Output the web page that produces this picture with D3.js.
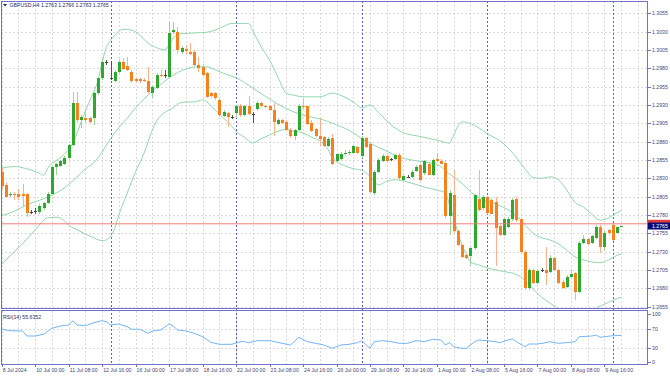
<!DOCTYPE html>
<html>
<head>
<meta charset="utf-8">
<script src="https://cdn.jsdelivr.net/npm/d3@7/dist/d3.min.js"></script>
<style>
  body { margin: 0; background: #fff; }
  svg { display: block; font-family: "Liberation Sans", Arial, sans-serif; }
</style>
</head>
<body>
<svg id="chart" width="670" height="376"></svg>
<script>
// GBPUSD H4, 8 Jul 16:00 .. 12 Aug 08:00 (bar index 0..148)
const openP = [1.2839,1.2821,1.2807,1.2809,1.2809,1.2808,1.2808,1.2784,1.2786,1.2784,
  1.2789,1.2796,1.2809,1.2845,1.2847,1.2850,1.2857,1.2875,1.2932,1.2910,
  1.2912,1.2912,1.2912,1.2946,1.2966,1.2988,1.2967,1.2963,1.2975,1.2989,
  1.2983,1.2975,1.2965,1.2965,1.2964,1.2963,1.2946,1.2953,1.2971,1.2971,
  1.2968,1.3029,1.3030,1.3002,1.3006,1.3002,1.3002,1.2984,1.2982,1.2973,
  1.2946,1.2946,1.2937,1.2915,1.2919,1.2913,1.2919,1.2929,1.2916,1.2929,
  1.2918,1.2924,1.2932,1.2929,1.2928,1.2923,1.2904,1.2909,1.2907,1.2896,
  1.2888,1.2896,1.2928,1.2928,1.2906,1.2897,1.2888,1.2886,1.2874,1.2885,
  1.2853,1.2856,1.2864,1.2864,1.2865,1.2872,1.2860,1.2885,1.2877,1.2810,
  1.2838,1.2854,1.2860,1.2856,1.2856,1.2862,1.2828,1.2832,1.2832,1.2840,
  1.2848,1.2837,1.2850,1.2835,1.2856,1.2854,1.2851,1.2778,1.2807,1.2758,
  1.2739,1.2726,1.2724,1.2735,1.2802,1.2789,1.2804,1.2800,1.2798,1.2765,
  1.2753,1.2764,1.2774,1.2802,1.2774,1.2730,1.2680,1.2705,1.2688,1.2705,
  1.2705,1.2703,1.2721,1.2705,1.2689,1.2682,1.2696,1.2701,1.2675,1.2742,
  1.2747,1.2742,1.2748,1.2764,1.2737,1.2759,1.2766,1.2756,1.2763];
const highP = [1.2844,1.2825,1.2811,1.2811,1.2816,1.2822,1.2810,1.2787,1.2789,1.2795,
  1.2798,1.2811,1.2847,1.2851,1.2855,1.2860,1.2877,1.2948,1.2948,1.2916,
  1.2924,1.2914,1.2948,1.2968,1.2994,1.2991,1.2990,1.2978,1.2991,1.2994,
  1.2995,1.2977,1.2967,1.2967,1.2966,1.2982,1.2957,1.2973,1.2978,1.2978,
  1.3043,1.3043,1.3036,1.3010,1.3012,1.3014,1.3005,1.2995,1.2986,1.2975,
  1.2948,1.2948,1.2939,1.2923,1.2921,1.2916,1.2930,1.2931,1.2930,1.2942,
  1.2920,1.2935,1.2934,1.2930,1.2930,1.2932,1.2912,1.2911,1.2909,1.2898,
  1.2897,1.2931,1.2938,1.2929,1.2909,1.2899,1.2912,1.2888,1.2886,1.2890,
  1.2864,1.2866,1.2869,1.2869,1.2875,1.2874,1.2888,1.2886,1.2878,1.2841,
  1.2858,1.2863,1.2862,1.2858,1.2863,1.2865,1.2834,1.2834,1.2841,1.2848,
  1.2850,1.2855,1.2851,1.2858,1.2864,1.2856,1.2855,1.2814,1.2841,1.2759,
  1.2741,1.2727,1.2736,1.2808,1.2841,1.2807,1.2806,1.2803,1.2805,1.2766,
  1.2776,1.2777,1.2803,1.2804,1.2775,1.2732,1.2708,1.2706,1.2706,1.2708,
  1.2737,1.2725,1.2723,1.2706,1.2691,1.2698,1.2705,1.2702,1.2744,1.2753,
  1.2749,1.2753,1.2767,1.2766,1.2758,1.2761,1.2769,1.2764,1.2766];
const lowP = [1.2816,1.2804,1.2805,1.2800,1.2800,1.2792,1.2777,1.2781,1.2782,1.2782,
  1.2787,1.2795,1.2807,1.2834,1.2845,1.2848,1.2855,1.2874,1.2907,1.2898,
  1.2907,1.2905,1.2903,1.2944,1.2964,1.2984,1.2964,1.2961,1.2973,1.2977,
  1.2976,1.2960,1.2960,1.2960,1.2961,1.2946,1.2940,1.2951,1.2968,1.2967,
  1.2966,1.3026,1.3000,1.3000,1.2999,1.2998,1.2983,1.2975,1.2969,1.2939,
  1.2940,1.2936,1.2914,1.2913,1.2900,1.2911,1.2912,1.2913,1.2915,1.2916,
  1.2905,1.2922,1.2927,1.2926,1.2922,1.2887,1.2903,1.2904,1.2894,1.2885,
  1.2882,1.2895,1.2924,1.2903,1.2893,1.2886,1.2874,1.2873,1.2872,1.2848,
  1.2851,1.2855,1.2862,1.2862,1.2864,1.2863,1.2857,1.2871,1.2810,1.2807,
  1.2837,1.2852,1.2851,1.2854,1.2855,1.2828,1.2826,1.2830,1.2830,1.2839,
  1.2827,1.2835,1.2834,1.2833,1.2852,1.2849,1.2776,1.2753,1.2755,1.2738,
  1.2721,1.2720,1.2711,1.2732,1.2786,1.2787,1.2781,1.2781,1.2710,1.2751,
  1.2751,1.2762,1.2772,1.2770,1.2728,1.2678,1.2678,1.2686,1.2686,1.2702,
  1.2685,1.2701,1.2704,1.2686,1.2679,1.2680,1.2695,1.2664,1.2674,1.2741,
  1.2739,1.2740,1.2747,1.2728,1.2731,1.2753,1.2744,1.2755,1.2763];
const closeP = [1.2819,1.2805,1.2809,1.2807,1.2805,1.2806,1.2783,1.2784,1.2786,1.2792,
  1.2796,1.2809,1.2846,1.2849,1.2853,1.2858,1.2875,1.2932,1.2910,1.2914,
  1.2909,1.2907,1.2946,1.2966,1.2989,1.2988,1.2967,1.2975,1.2989,1.2979,
  1.2978,1.2962,1.2963,1.2962,1.2963,1.2948,1.2955,1.2971,1.2969,1.2971,
  1.3028,1.3032,1.3005,1.3008,1.3004,1.2999,1.2984,1.2980,1.2971,1.2941,
  1.2942,1.2939,1.2916,1.2921,1.2914,1.2913,1.2928,1.2916,1.2928,1.2918,
  1.2918,1.2932,1.2928,1.2927,1.2923,1.2907,1.2910,1.2906,1.2896,1.2888,
  1.2896,1.2928,1.2927,1.2904,1.2895,1.2888,1.2884,1.2874,1.2884,1.2850,
  1.2863,1.2863,1.2865,1.2866,1.2874,1.2865,1.2885,1.2872,1.2812,1.2838,
  1.2855,1.2860,1.2854,1.2856,1.2862,1.2830,1.2833,1.2832,1.2839,1.2846,
  1.2828,1.2853,1.2835,1.2855,1.2853,1.2850,1.2778,1.2810,1.2758,1.2739,
  1.2723,1.2722,1.2735,1.2807,1.2787,1.2805,1.2783,1.2782,1.2762,1.2753,
  1.2774,1.2775,1.2801,1.2773,1.2730,1.2680,1.2705,1.2688,1.2704,1.2705,
  1.2701,1.2722,1.2705,1.2687,1.2680,1.2696,1.2700,1.2675,1.2742,1.2747,
  1.2740,1.2751,1.2764,1.2737,1.2756,1.2755,1.2746,1.2763,1.2765];

const upIdx = [0,3,6,9,10,11,13,15,17,19,21,22,23,24,25,26,27,29,31,33,35,37,39,40,41,43,46,49,51,53,55,58,59,60,62,64,66,68,70,72,76,79,81,84,86,88,90,93,96,100,104,107,108,109,110,113,116,120,123,125,127,129,131,133,135,137,139,141,143,145,147,148];
const upVal = [1.2844,1.2846,1.2843,1.2837,1.2834,1.2844,1.2854,1.2863,1.2878,1.2907,1.2935,1.2948,1.2963,1.2988,1.3008,1.3018,1.3025,1.3033,1.3032,1.3025,1.3014,1.3008,1.3005,1.3012,1.3021,1.3027,1.3028,1.3029,1.3032,1.3037,1.3041,1.3041,1.3041,1.3031,1.3009,1.2991,1.2968,1.2946,1.2943,1.2941,1.2941,1.2946,1.2943,1.2934,1.2926,1.2930,1.2920,1.2903,1.2892,1.2887,1.2882,1.2878,1.2889,1.2901,1.2907,1.2902,1.2891,1.2877,1.2858,1.2843,1.2831,1.2830,1.2832,1.2828,1.2814,1.2797,1.2791,1.2781,1.2773,1.2776,1.2783,1.2786];
const midIdx = [0,3,6,9,12,15,18,20,22,24,26,28,30,32,34,36,38,40,42,44,47,49,51,53,56,60,64,68,72,76,80,84,86,88,90,92,95,100,104,107,110,113,116,120,123,125,127,129,131,133,135,137,139,141,143,145,147,148];
const midVal = [1.2779,1.2785,1.2794,1.2800,1.2807,1.2817,1.2832,1.2843,1.2851,1.2866,1.2884,1.2899,1.2912,1.2926,1.2938,1.2949,1.2958,1.2967,1.2974,1.2979,1.2982,1.2982,1.2978,1.2973,1.2967,1.2953,1.2938,1.2925,1.2916,1.2911,1.2903,1.2892,1.2884,1.2878,1.2872,1.2867,1.2859,1.2853,1.2849,1.2836,1.2823,1.2807,1.2799,1.2790,1.2779,1.2767,1.2755,1.2749,1.2746,1.2741,1.2732,1.2723,1.2719,1.2716,1.2715,1.2719,1.2725,1.2727];
const loIdx = [0,3,6,8,11,13,15,16,18,20,22,24,25,26,27,28,30,32,34,36,37,39,41,42,44,46,48,50,51,53,55,56,58,60,62,64,66,68,70,72,74,76,78,79,82,85,86,88,90,92,94,97,101,104,106,107,108,109,110,111,112,114,116,120,123,124,126,129,131,133,135,137,139,141,143,145,147,148];
const loVal = [1.2713,1.2730,1.2747,1.2760,1.2776,1.2777,1.2772,1.2766,1.2760,1.2754,1.2749,1.2745,1.2746,1.2751,1.2762,1.2780,1.2810,1.2839,1.2864,1.2896,1.2908,1.2920,1.2926,1.2931,1.2934,1.2934,1.2937,1.2929,1.2923,1.2912,1.2901,1.2894,1.2886,1.2878,1.2884,1.2889,1.2894,1.2897,1.2894,1.2892,1.2886,1.2881,1.2869,1.2858,1.2847,1.2842,1.2841,1.2833,1.2821,1.2826,1.2828,1.2825,1.2818,1.2814,1.2810,1.2794,1.2776,1.2756,1.2739,1.2727,1.2716,1.2712,1.2708,1.2703,1.2699,1.2696,1.2685,1.2668,1.2660,1.2653,1.2651,1.2649,1.2648,1.2651,1.2656,1.2661,1.2666,1.2668];

// RSI(14)
const rsiIdx = [0,2,5,6,8,10,12,14,16,17,18,20,22,24,25,26,28,30,31,33,35,36,38,40,41,42,44,46,48,50,52,55,57,58,59,61,64,67,69,71,73,75,77,79,81,83,85,86,88,89,91,93,95,97,99,101,103,105,106,107,108,110,111,113,114,116,118,119,121,122,123,125,126,128,130,131,133,135,137,138,141,142,143,144,146,148];
const rsiVal = [68.6,65.6,65,54.5,54.5,58.1,70.6,75.5,77.6,86.6,77.6,76.1,82.4,86.6,84.5,77.6,79.7,74,68.6,68.6,60.2,65,67.1,79.7,75.5,67.1,65,60.2,53,41.3,37.1,37.1,42.6,42.6,40.5,44.7,44.7,39.2,35.6,51.8,42.6,39.2,35.6,28.7,35.6,37.1,40.5,44.7,28.7,42.6,44.7,42.6,39.2,39.2,44.7,42.6,47.6,46.1,35.6,40.5,32.1,28.7,28.7,42.6,46.1,44.7,42.6,40.5,46.1,48.2,42.6,32.1,37.7,37.7,40.5,42.6,39.2,40.5,42.6,53,54.5,56.6,51.8,53,55.1,55.6];

// axes
const priceTicks = [1.3055,1.3030,1.3005,1.2980,1.2955,1.2930,1.2905,1.2880,1.2855,1.2830,1.2805,1.2780,1.2755,1.2730,1.2705,1.2680,1.2655];
const rsiTicks = [100,70,30,0];
const rsiLevels = [70,30];
const dateIdx = [0,8,16,24,32,40,48,56,64,72,80,88,96,104,112,120,128,136,144];
const dateLabels = ["8 Jul 2024","10 Jul 00:00","11 Jul 08:00","12 Jul 16:00","16 Jul 00:00","17 Jul 08:00","18 Jul 16:00","22 Jul 00:00","23 Jul 08:00","24 Jul 16:00","26 Jul 00:00","29 Jul 08:00","30 Jul 16:00","1 Aug 00:00","2 Aug 08:00","5 Aug 16:00","7 Aug 00:00","8 Aug 08:00","9 Aug 16:00"];
const weekIdx = [26,56,86,116,146];
const askPrice = 1.2768;
const bidPrice = 1.2765;
const title = "GBPUSD,H4 1.2763 1.2766 1.2763 1.2765";
const rsiTitle = "RSI(14) 55.6352";

const frame = "#7272cc", gridC = "#dadada", textC = "#45457a";
const upC = "#2fa82f", downC = "#f7811f", upWick = "#9ad59a", downWick = "#fbb08e";
const bandC = "#92d6ad", rsiC = "#73b5f7";

const svg = d3.select("#chart");
const L = 1, R = 648, mainTop = 1, mainBot = 307.5, rsiTop = 311, rsiBot = 364;

const x = d3.scaleLinear().domain([0, 148]).range([1.7, 621.1]);
const y = d3.scaleLinear().domain([1.2780, 1.3055]).range([215, 13.15]);
const yr = d3.scaleLinear().domain([0, 100]).range([362, 314.3]);

const defs = svg.append("defs");
defs.append("clipPath").attr("id", "clipMain")
  .append("rect").attr("x", L).attr("y", mainTop).attr("width", R - L).attr("height", mainBot - mainTop);
defs.append("clipPath").attr("id", "clipRsi")
  .append("rect").attr("x", L).attr("y", rsiTop).attr("width", R - L).attr("height", rsiBot - rsiTop);

// grid
const grid = svg.append("g").attr("shape-rendering", "crispEdges")
  .attr("stroke", gridC).attr("stroke-dasharray", "2,2");
grid.selectAll(".hg").data(priceTicks).enter().append("line")
  .attr("x1", L).attr("x2", R)
  .attr("y1", d => Math.round(y(d)) + 0.5).attr("y2", d => Math.round(y(d)) + 0.5);
grid.selectAll(".rl").data(rsiLevels).enter().append("line")
  .attr("x1", L).attr("x2", R)
  .attr("y1", d => Math.round(yr(d)) + 0.5).attr("y2", d => Math.round(yr(d)) + 0.5);
const vTicks = d3.range(0, 153, 4);
grid.selectAll(".vg").data(vTicks).enter().append("line")
  .attr("x1", d => Math.round(x(d)) + 0.5).attr("x2", d => Math.round(x(d)) + 0.5)
  .attr("y1", mainTop).attr("y2", mainBot);
grid.selectAll(".vr").data(vTicks).enter().append("line")
  .attr("x1", d => Math.round(x(d)) + 0.5).attr("x2", d => Math.round(x(d)) + 0.5)
  .attr("y1", rsiTop).attr("y2", rsiBot);

// weekly separators
svg.append("g").attr("stroke", "#5d5dc8").attr("stroke-dasharray", "2,2").attr("shape-rendering", "crispEdges")
  .selectAll("line").data(weekIdx).enter().append("line")
  .attr("x1", d => Math.round(x(d)) + 0.5).attr("x2", d => Math.round(x(d)) + 0.5)
  .attr("y1", mainTop).attr("y2", rsiBot);

// bollinger bands
const main = svg.append("g").attr("clip-path", "url(#clipMain)");
const bandLine = d3.line().x(d => x(d[0])).y(d => y(d[1])).curve(d3.curveMonotoneX);
[[upIdx, upVal], [midIdx, midVal], [loIdx, loVal]].forEach(([ix, vals]) => {
  main.append("path")
    .datum(ix.map((d, i) => [d, vals[i]]))
    .attr("d", bandLine)
    .attr("fill", "none").attr("stroke", bandC).attr("stroke-width", 1);
});

// candles
const bars = d3.range(openP.length).map(i => ({ i, o: openP[i], h: highP[i], l: lowP[i], c: closeP[i] }));
const cg = main.append("g").attr("shape-rendering", "crispEdges");
const candle = cg.selectAll("g").data(bars).enter().append("g");
candle.append("line")
  .attr("x1", d => Math.round(x(d.i)) + 0.5).attr("x2", d => Math.round(x(d.i)) + 0.5)
  .attr("y1", d => y(d.h)).attr("y2", d => y(d.l))
  .attr("stroke", d => d.c > d.o ? upWick : d.c < d.o ? downWick : "#555");
candle.append("rect")
  .attr("x", d => Math.round(x(d.i)) - 1)
  .attr("width", 3)
  .attr("y", d => Math.min(y(d.o), y(d.c)))
  .attr("height", d => Math.max(1, Math.abs(y(d.o) - y(d.c))))
  .attr("fill", d => d.c > d.o ? upC : d.c < d.o ? downC : "#444");

// ask line
svg.append("line").attr("x1", L).attr("x2", R)
  .attr("y1", y(askPrice)).attr("y2", y(askPrice))
  .attr("stroke", "#ef7b7b").attr("stroke-width", 1);

// rsi
svg.append("path")
  .datum(rsiIdx.map((d, i) => [d, rsiVal[i]]))
  .attr("clip-path", "url(#clipRsi)")
  .attr("d", d3.line().x(d => x(d[0])).y(d => yr(d[1])))
  .attr("fill", "none").attr("stroke", rsiC).attr("stroke-width", 1);

// frames
const fr = svg.append("g").attr("stroke", frame).attr("fill", "none").attr("shape-rendering", "crispEdges");
fr.append("rect").attr("x", L + 0.5).attr("y", mainTop + 0.5).attr("width", R - L - 1).attr("height", mainBot - mainTop);
fr.append("rect").attr("x", L + 0.5).attr("y", rsiTop - 0.5).attr("width", R - L - 1).attr("height", rsiBot - rsiTop + 0.5);

// price axis
const pAxis = svg.append("g").attr("font-size", 5.2).attr("fill", textC);
pAxis.selectAll("line").data(priceTicks).enter().append("line")
  .attr("x1", R).attr("x2", R + 3)
  .attr("y1", d => Math.round(y(d)) + 0.5).attr("y2", d => Math.round(y(d)) + 0.5)
  .attr("stroke", frame).attr("shape-rendering", "crispEdges");
pAxis.selectAll("text").data(priceTicks).enter().append("text")
  .attr("x", R + 4).attr("y", d => y(d) + 2)
  .text(d => d.toFixed(4));

const rAxis = svg.append("g").attr("font-size", 5.2).attr("fill", textC);
rAxis.selectAll("line").data(rsiTicks).enter().append("line")
  .attr("x1", R).attr("x2", R + 3)
  .attr("y1", d => Math.round(yr(d)) + 0.5).attr("y2", d => Math.round(yr(d)) + 0.5)
  .attr("stroke", frame).attr("shape-rendering", "crispEdges");
rAxis.selectAll("text").data(rsiTicks).enter().append("text")
  .attr("x", R + 4).attr("y", d => yr(d) + 2)
  .text(d => d);

// price labels on the axis
svg.append("rect").attr("x", R).attr("y", y(askPrice) - 4).attr("width", 22).attr("height", 7).attr("fill", "#e23b3b");
svg.append("rect").attr("x", R).attr("y", y(bidPrice) - 3.5).attr("width", 22).attr("height", 7).attr("fill", "#0b0b78");
svg.append("text").attr("x", R + 4).attr("y", y(bidPrice) + 2).attr("font-size", 5.2).attr("fill", "#fff").text(bidPrice.toFixed(4));

// date axis
const dAxis = svg.append("g").attr("font-size", 5.2).attr("fill", textC);
dAxis.selectAll("line").data(dateIdx).enter().append("line")
  .attr("x1", d => Math.round(x(d)) + 0.5).attr("x2", d => Math.round(x(d)) + 0.5)
  .attr("y1", rsiBot).attr("y2", rsiBot + 3)
  .attr("stroke", frame).attr("shape-rendering", "crispEdges");
dAxis.selectAll("text").data(dateIdx).enter().append("text")
  .attr("x", d => x(d) + 1).attr("y", 372)
  .text((d, i) => dateLabels[i]);

// titles
svg.append("path").attr("d", "M3,4 L7,4 L5,6.5 Z").attr("fill", "#222255");
svg.append("text").attr("x", 9.5).attr("y", 7.3).attr("font-size", 5.2).attr("fill", "#2b2b66").text(title);
svg.append("text").attr("x", 3).attr("y", 318.5).attr("font-size", 5.2).attr("fill", "#2b2b66").text(rsiTitle);
</script>
</body>
</html>
